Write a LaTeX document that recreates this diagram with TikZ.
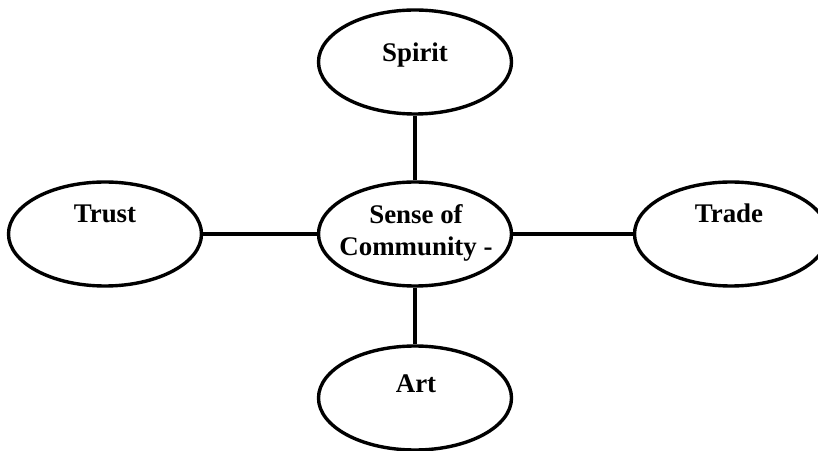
\documentclass[tikz,border=0pt]{standalone}
\usepackage{fontspec}
\setmainfont{Liberation Serif}
\usetikzlibrary{shapes.geometric}

\begin{document}
\begin{tikzpicture}[x=1bp,y=-1bp,inner sep=0,
				bubble/.style={ellipse,draw,line width=3.4bp,minimum width=193bp,minimum height=104bp},
				word/.style={font=\fontsize{27}{32}\selectfont\bfseries,align=center},
				link/.style={line width=4.5bp}]
				
				\useasboundingbox (0,0) rectangle (818,451);
				
				\node at (415,62) [bubble] (spirit) {};
				\node at (415,234) [bubble] (community) {};
				\node at (105,234) [bubble] (trust) {};
				\node at (731,234) [bubble] (trade) {};
				\node at (415,398) [bubble] (art) {};
				
				\node at (415,62) [word,anchor=base] (spiritlabel) {Spirit};
				\node at (105,223) [word,anchor=base] (trustlabel) {Trust};
				\node at (729,223) [word,anchor=base] (tradelabel) {Trade};
				\node at (416,392) [word,anchor=base] (artlabel) {Art};
				\node at (416,233) [word] (communitylabel) {Sense of\\Community -};
				
				\foreach \n in {spirit,trust,trade,art}{
					\path[link] (community) edge (\n);
				}
				
			\end{tikzpicture}
\end{document}
